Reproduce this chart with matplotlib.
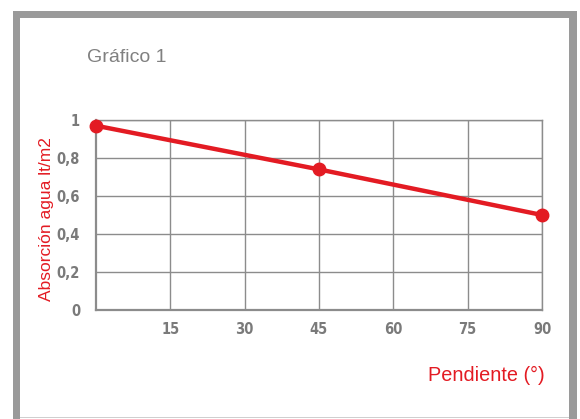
import matplotlib.pyplot as plt
from matplotlib.patches import Rectangle

# water absorption vs slope
pendiente = [0, 45, 90]
absorcion = [0.97, 0.74, 0.50]
x_ticks = [15, 30, 45, 60, 75, 90]
y_ticks = [0, 0.2, 0.4, 0.6, 0.8, 1]
y_labels = ['0', '0,2', '0,4', '0,6', '0,8', '1']

RED = '#e31b23'
GRID = '#8c8c8c'
TICK = '#7a7a7a'
W, H = 580, 419

fig = plt.figure(figsize=(W / 100, H / 100), dpi=100)
fig.patch.set_facecolor('white')

# gray frame around the chart
frame = '#9a9a9a'
for x0, y0, w, h in [(13, 11, 7, 408), (13, 11, 564, 7), (569, 11, 8, 408)]:
    fig.patches.append(Rectangle((x0 / W, 1 - (y0 + h) / H), w / W, h / H,
                                 transform=fig.transFigure, color=frame, lw=0))
fig.patches.append(Rectangle((20 / W, 1 - 418 / H), 549 / W, 1 / H,
                             transform=fig.transFigure, color='#cfcfcf', lw=0))

# axes: x 0..90 -> px 96..542, y 0..1 -> px 310..120
ax = fig.add_axes([96 / W, 1 - 310 / H, (542 - 96) / W, (310 - 120) / H])
ax.set_xlim(0, 90)
ax.set_ylim(0, 1)
ax.set_xticks(x_ticks)
ax.set_yticks(y_ticks)
ax.set_yticklabels(y_labels)
ax.grid(True, color=GRID, lw=1)
for s in ax.spines.values():
    s.set_color(GRID)
    s.set_linewidth(1)
ax.spines['left'].set_linewidth(1.6)
ax.spines['bottom'].set_linewidth(1.6)
ax.tick_params(length=0, colors=TICK)
tick_font = dict(family='DejaVu Sans', stretch='condensed', weight='bold', size=10.5)
for lab in ax.get_xticklabels():
    lab.set(**tick_font)
for lab in ax.get_yticklabels():
    lab.set(**tick_font)
ax.tick_params(axis='x', pad=8.5)
ax.tick_params(axis='y', pad=11.5)

ax.plot(pendiente, absorcion, color=RED, lw=3.2, marker='o', ms=9,
        clip_on=False, zorder=5)

fig.text(87 / W, 1 - 57 / H, 'Gráfico 1', color='#808080', fontsize=14,
         family='Liberation Sans', va='center', ha='left')
fig.text(47 / W, 1 - 219 / H, 'Absorción agua lt/m2', color=RED, fontsize=12.5,
         family='Liberation Sans', rotation=90, va='center', ha='center')
fig.text(545 / W, 1 - 375 / H, 'Pendiente (°)', color=RED, fontsize=14.3,
         family='Liberation Sans', va='center', ha='right')

fig.savefig('out.png', dpi=100)
